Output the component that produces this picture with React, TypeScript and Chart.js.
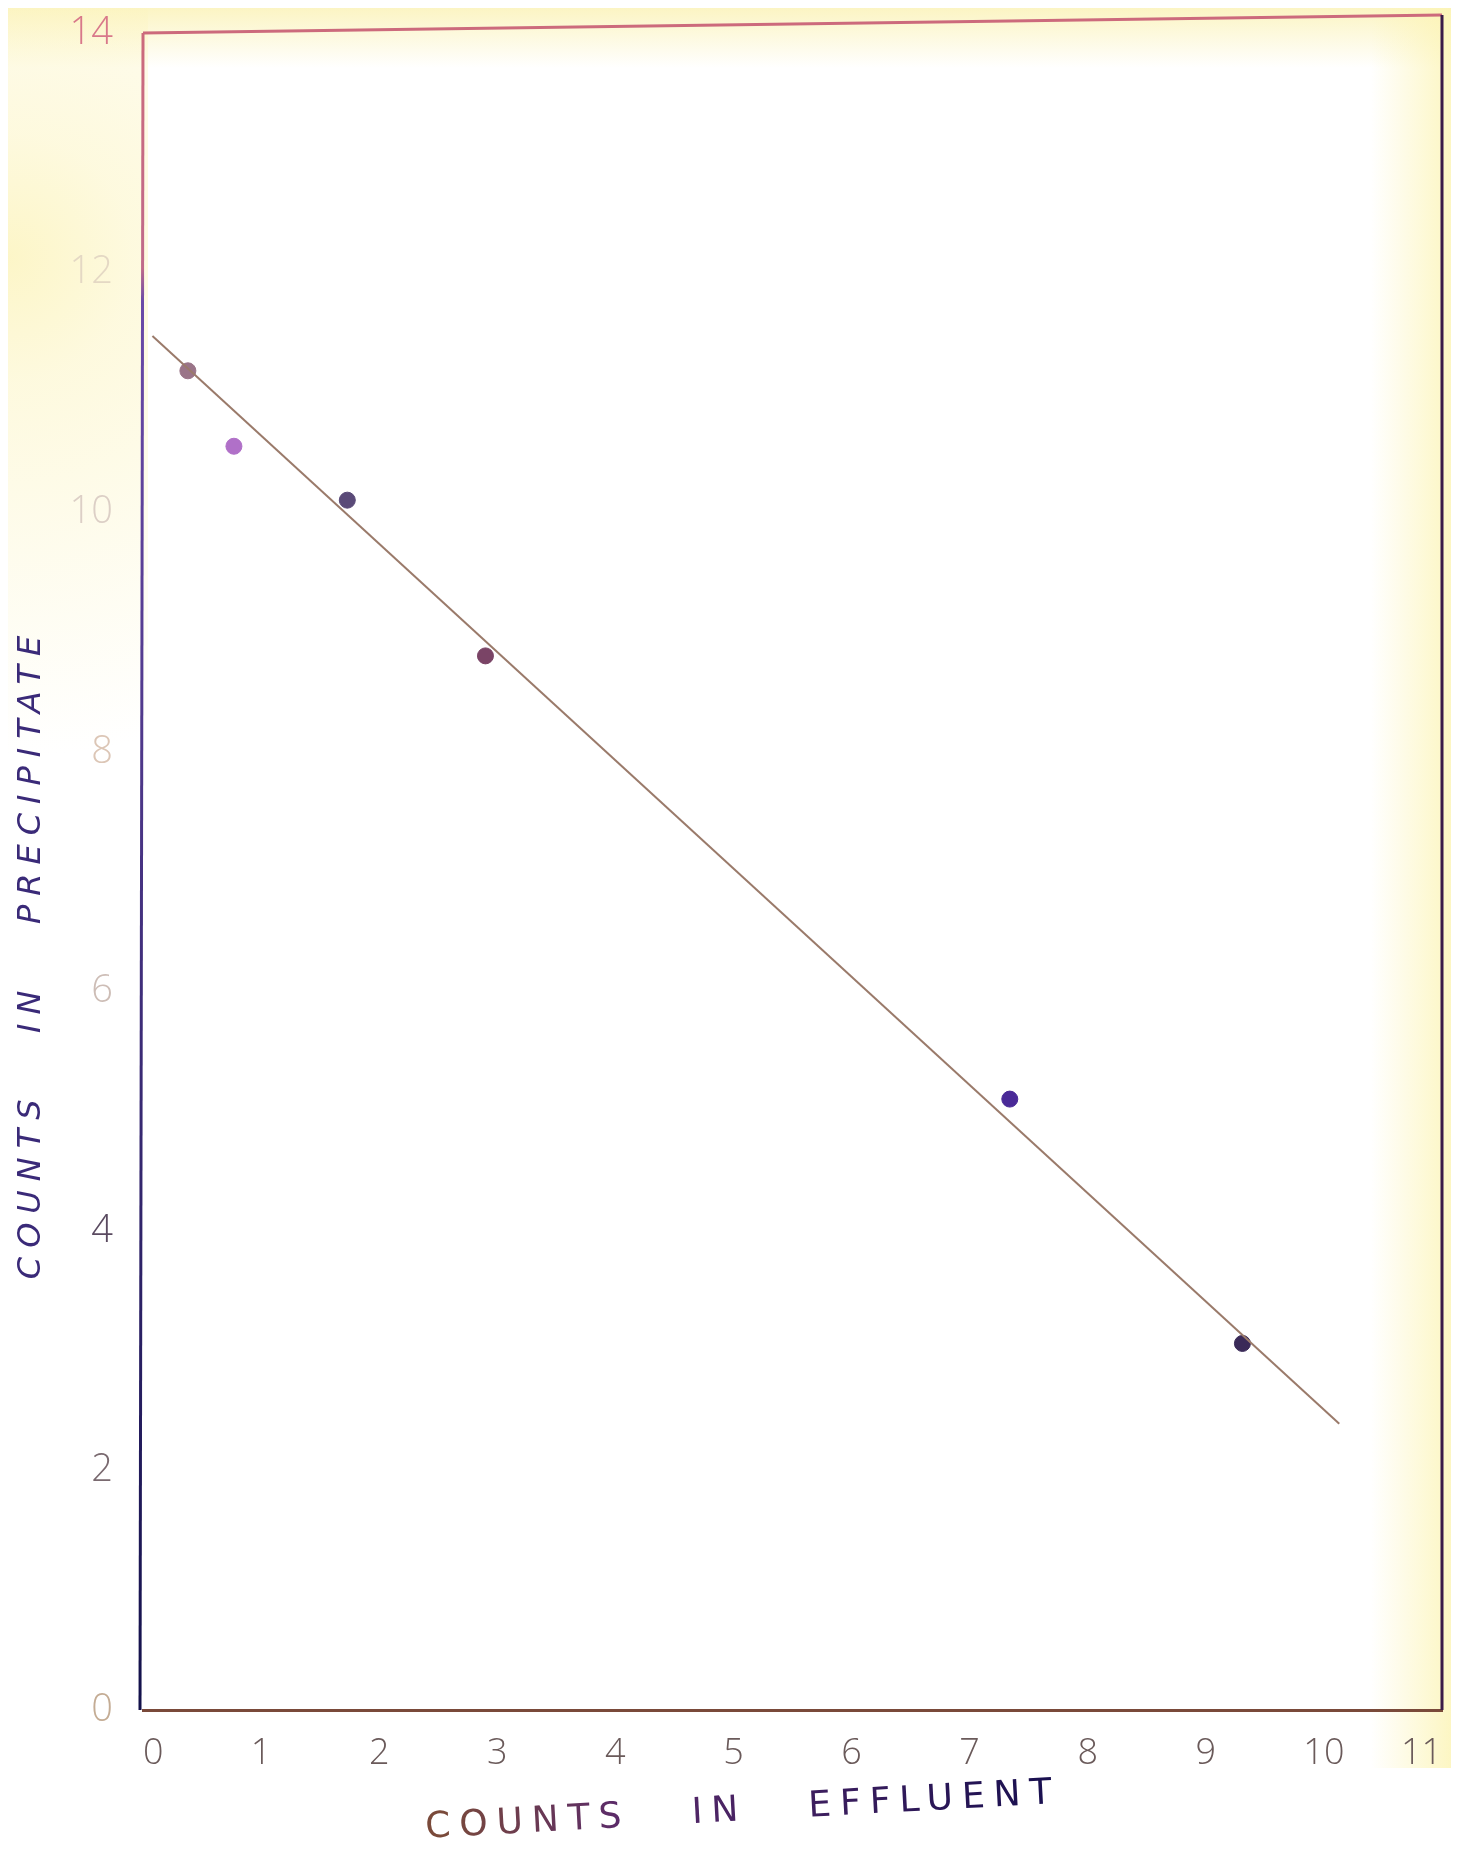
import React, { useEffect, useRef } from "react";
import { Chart, registerables } from "chart.js";

Chart.register(...registerables);

// Data
const effluentCounts = [0.38, 0.77, 1.73, 2.9, 7.34, 9.31];
const precipitateCounts = [11.18, 10.55, 10.1, 8.8, 5.1, 3.06];
const pointColors = ["#9a7488", "#b070c8", "#5a4a78", "#7a4466", "#4a2a98", "#3a2a58"];
const fitLineX = [0.08, 10.13];
const fitLineY = [11.47, 2.39];
const xTickValues = [0, 1, 2, 3, 4, 5, 6, 7, 8, 9, 10, 11];
const yTickValues = [0, 2, 4, 6, 8, 10, 12, 14];
const yTickColors: Record<number, string> = {
  14: "#d8788a",
  12: "#e4d8c4",
  10: "#dccfc6",
  8: "#dcc6b6",
  6: "#cdbdb6",
  4: "#5a4a60",
  2: "#7a6a70",
  0: "#c4ac94",
};
const xTitle = "COUNTS   IN   EFFLUENT";
const yTitle = "COUNTS   IN   PRECIPITATE";

const W = 1443;
const H = 1854;

const framePlugin = {
  id: "frame",
  beforeDraw(chart: any) {
    const { ctx } = chart;
    ctx.save();
    ctx.fillStyle = "#ffffff";
    ctx.fillRect(0, 0, W, H);
    // scan tint at edges
    let g = ctx.createLinearGradient(0, 0, 0, 60);
    g.addColorStop(0, "rgba(250,240,170,0.7)");
    g.addColorStop(1, "rgba(250,240,170,0)");
    ctx.fillStyle = g;
    ctx.fillRect(0, 0, W, 60);
    const r = ctx.createRadialGradient(0, 250, 0, 0, 250, 500);
    r.addColorStop(0, "rgba(252,244,190,0.85)");
    r.addColorStop(0.25, "rgba(252,244,190,0.5)");
    r.addColorStop(1, "rgba(252,244,190,0)");
    ctx.fillStyle = r;
    ctx.fillRect(0, 0, 140, 900);
    g = ctx.createLinearGradient(W - 80, 0, W, 0);
    g.addColorStop(0, "rgba(252,244,180,0)");
    g.addColorStop(1, "rgba(252,244,180,0.8)");
    ctx.fillStyle = g;
    ctx.fillRect(W - 80, 0, 80, 1760);
    ctx.restore();
  },
  afterDraw(chart: any) {
    const { ctx, chartArea: a } = chart;
    ctx.save();
    ctx.lineWidth = 3;
    // top
    ctx.strokeStyle = "#cc6a7c";
    ctx.beginPath();
    ctx.moveTo(a.left, a.top);
    ctx.lineTo(a.right, a.top - 18);
    ctx.stroke();
    // left
    const g = ctx.createLinearGradient(0, a.top, 0, a.bottom);
    g.addColorStop(0, "#cc6a7c");
    g.addColorStop(0.14, "#c06a8a");
    g.addColorStop(0.16, "#6a4aa8");
    g.addColorStop(1, "#12104a");
    ctx.strokeStyle = g;
    ctx.beginPath();
    ctx.moveTo(a.left, a.top);
    ctx.lineTo(a.left - 3, a.bottom);
    ctx.stroke();
    // right
    ctx.strokeStyle = "#3a1a48";
    ctx.beginPath();
    ctx.moveTo(a.right, a.top - 18);
    ctx.lineTo(a.right, a.bottom);
    ctx.stroke();
    // titles
    ctx.fillStyle = "#3a2a78";
    (ctx as any).letterSpacing = "9px";
    ctx.font = "italic 32px 'DejaVu Sans'";
    ctx.textAlign = "center";
    ctx.textBaseline = "middle";
    ctx.translate(24, 945);
    ctx.rotate(-Math.PI / 2);
    ctx.fillText(yTitle, 0, 0);
    ctx.restore();
    ctx.save();
    (ctx as any).letterSpacing = "9px";
    ctx.font = "36px 'DejaVu Sans'";
    ctx.textAlign = "center";
    ctx.textBaseline = "middle";
    ctx.translate(735, 1803);
    ctx.rotate(-0.055);
    const grad = ctx.createLinearGradient(-300, 0, 300, 0);
    grad.addColorStop(0, "#7a4a3a");
    grad.addColorStop(0.3, "#5a2a6a");
    grad.addColorStop(1, "#1a1050");
    ctx.fillStyle = grad;
    ctx.fillText(xTitle, 0, 0);
    ctx.restore();
  },
};

export default function App() {
  const ref = useRef<HTMLCanvasElement | null>(null);
  useEffect(() => {
    if (!ref.current) return;
    const chart = new Chart(ref.current, {
      type: "scatter",
      data: {
        datasets: [
          {
            type: "line",
            label: "fit",
            data: fitLineX.map((x, i) => ({ x, y: fitLineY[i] })),
            borderColor: "#9a7a6a",
            borderWidth: 2,
            pointRadius: 0,
            fill: false,
          } as any,
          {
            label: "points",
            data: effluentCounts.map((x, i) => ({ x, y: precipitateCounts[i] })),
            backgroundColor: pointColors,
            borderColor: pointColors,
            pointRadius: 8,
          },
        ],
      },
      options: {
        responsive: false,
        animation: false,
        layout: { padding: { top: 25, right: 1, left: 0, bottom: 0 } },
        plugins: { legend: { display: false }, tooltip: { enabled: false } },
        scales: {
          x: {
            type: "linear",
            min: 0,
            max: 11,
            afterBuildTicks: (s: any) => {
              s.ticks = xTickValues.map((v) => ({ value: v }));
            },
            afterFit: (s: any) => {
              s.height = 152;
              s.paddingLeft = 0;
              s.paddingRight = 0;
            },
            grid: { display: false, drawTicks: false },
            border: { display: true, color: "#7a4a3a", width: 3 },
            ticks: {
              color: "#6a5a5a",
              padding: 22,
              align: "inner",
              font: { family: "'Open Sans'", size: 36, weight: "300" as any },
              callback: (v: any) => String(v),
            },
          },
          y: {
            type: "linear",
            min: 0,
            max: 14,
            afterBuildTicks: (s: any) => {
              s.ticks = yTickValues.map((v) => ({ value: v }));
            },
            afterFit: (s: any) => {
              s.width = 135;
              s.paddingTop = 0;
              s.paddingBottom = 0;
            },
            grid: { display: false, drawTicks: false },
            border: { display: false },
            ticks: {
              color: (c: any) => yTickColors[c.tick.value] || "#8a7a70",
              padding: 30,
              font: { family: "'Open Sans'", size: 38, weight: "300" as any },
              callback: (v: any) => String(v),
            },
          },
        },
      },
      plugins: [framePlugin],
    });
    return () => chart.destroy();
  }, []);
  return (
    <div style={{ width: W, height: H }}>
      <canvas ref={ref} width={W} height={H} style={{ display: "block" }} />
    </div>
  );
}
